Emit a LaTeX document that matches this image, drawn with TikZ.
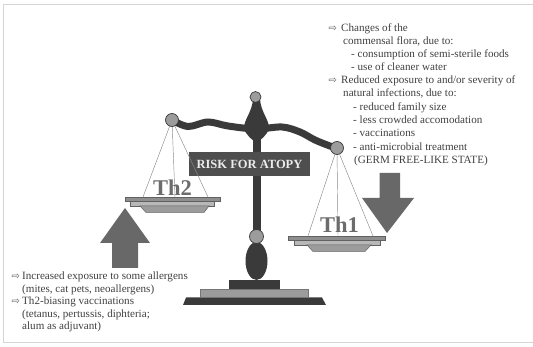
\documentclass[tikz,border=0pt]{standalone}
\usepackage{fontspec}
\usetikzlibrary{shapes.geometric}
\setmainfont{Liberation Serif}
\newfontfamily\arrowfont{DejaVu Sans}
\definecolor{scaledark}{HTML}{3A3A3A}
\definecolor{ballgray}{HTML}{9C9C9C}
\definecolor{pangray}{HTML}{8E8E8E}
\definecolor{panlight}{HTML}{B8B8B8}
\definecolor{arrowgray}{HTML}{686868}
\definecolor{textgray}{HTML}{404040}
\definecolor{framegray}{HTML}{D4D4D4}
\definecolor{stringgray}{HTML}{8A8A8A}
\definecolor{labelgray}{HTML}{6C6C6C}
\begin{document}
\begin{tikzpicture}[x=1pt,y=-1pt,
  ball/.style={circle, fill=ballgray, draw=scaledark, line width=0.7pt, inner sep=0pt, minimum size=#1},
  ball/.default=12pt,
  string/.style={draw=stringgray, line width=0.45pt},
  panedge/.style={draw=scaledark!80, line width=0.5pt},
  body/.style={anchor=base west, inner sep=0pt, text=textgray, font=\fontsize{11.1}{12}\selectfont},
  bullet/.style={anchor=base west, inner sep=0pt, text=textgray!85, font=\arrowfont\fontsize{10}{10}\selectfont},
  thlabel/.style={anchor=base, inner sep=0pt, text=labelgray, font=\bfseries\fontsize{22.5}{24}\selectfont},
  bigarrow/.style={fill=arrowgray}
]
\useasboundingbox (0,0) rectangle (533,347);

% thin frame
\draw[framegray, line width=0.9pt] (533,4) -- (3,4) -- (3,342) -- (533,342);

% ---- scale: base ----
\path[fill=scaledark] (186,297.5) -- (322,297.5) -- (326,305) -- (183,305) -- cycle;
\path[fill=ballgray, draw=scaledark!70, line width=0.4pt] (200,289) rectangle (308,297.5);
\path[fill=scaledark] (229,280) rectangle (280,289);
\node[ellipse, fill=scaledark, minimum width=22pt, minimum height=38pt, inner sep=0pt] (foot) at (256.5,261) {};

% pole and hub
\path[fill=scaledark] (252.5,128) rectangle (260.5,232);
\path[fill=scaledark] (253,99) -- (260,99)
  .. controls (261,112) and (268,118) .. (269,127)
  .. controls (268,136) and (260,139) .. (256.5,144)
  .. controls (253,139) and (245,136) .. (244,127)
  .. controls (245,118) and (252,112) .. (253,99) -- cycle;

% beam
\draw[scaledark, line width=7pt, line cap=round] plot[smooth, tension=0.55] coordinates
  {(172,120) (188,126.5) (208,122) (228,126) (256,129) (282,127) (300,132) (315,140) (330,146) (337,148)};

% balls
\node[ball=11pt] (topball) at (255.5,97) {};
\node[ball=13pt] (lball) at (172,120) {};
\node[ball=13pt] (rball) at (337,148) {};
\node[ball=14pt] (midball) at (256.5,236.5) {};

% label box
\node[fill=scaledark!90, text=white!92!black, minimum width=121pt, minimum height=24pt, inner sep=0pt,
      font=\bfseries\fontsize{12.5}{14}\selectfont] (risk) at (249.5,164) {RISK FOR ATOPY};

% ---- left pan ----
\coordinate (lp1) at (143,197);
\coordinate (lp2) at (175,197);
\coordinate (lp3) at (208,197);
\draw[string] (lball) -- (lp1);
\draw[string] (lball) -- (lp2);
\draw[string] (lball) -- (lp3);
\node[thlabel] (th2) at (172.5,196) {Th2};
\path[fill=pangray, panedge] (125,197.5) rectangle (220,201);
\path[fill=panlight, panedge] (130,201) rectangle (214,206);
\path[fill=ballgray, panedge] (140,206) -- (209,206) -- (204,212.5) -- (146,212.5) -- cycle;

% ---- right pan ----
\coordinate (rp1) at (308,236);
\coordinate (rp2) at (338,236);
\coordinate (rp3) at (373,236);
\draw[string] (rball) -- (rp1);
\draw[string] (rball) -- (rp2);
\draw[string] (rball) -- (rp3);
\node[thlabel] (th1) at (339.5,232.5) {Th1};
\path[fill=pangray, panedge] (288,236.5) rectangle (385,240);
\path[fill=panlight, panedge] (294,240) rectangle (380,245);
\path[fill=ballgray, panedge] (307,245) -- (371,245) -- (365,251.5) -- (313,251.5) -- cycle;

% ---- big arrows ----
\path[bigarrow] (112,268) -- (112,243) -- (100,243) -- (125,208) -- (150,243) -- (138,243) -- (138,268) -- cycle;
\path[bigarrow] (379.5,173) -- (400,173) -- (400,198) -- (414,198) -- (387,233) -- (362,198) -- (379.5,198) -- cycle;

% ---- right text block ----
\node[bullet] (ra) at (328.5,32) {⇨};
\node[body] (r1) at (341,32) {Changes of the};
\node[body] (r2) at (343,45) {commensal flora, due to:};
\node[body] (r3) at (351,58) {- consumption of semi-sterile foods};
\node[body] (r4) at (351,71) {- use of cleaner water};
\node[bullet] (rb) at (328.5,84) {⇨};
\node[body] (r5) at (341,84) {Reduced exposure to and/or severity of};
\node[body] (r6) at (343,97) {natural infections, due to:};
\node[body] (r7) at (353,110.5) {- reduced family size};
\node[body] (r8) at (353,124) {- less crowded accomodation};
\node[body] (r9) at (353,137) {- vaccinations};
\node[body] (r10) at (353,150.5) {- anti-microbial treatment};
\node[body] (r11) at (354,164) {(GERM FREE-LIKE STATE)};

% ---- left text block ----
\node[bullet] (la) at (11.5,280) {⇨};
\node[body] (l1) at (22,280) {Increased exposure to some allergens};
\node[body] (l2) at (22,293) {(mites, cat pets, neoallergens)};
\node[bullet] (lb) at (11.5,305) {⇨};
\node[body] (l3) at (22,305) {Th2-biasing vaccinations};
\node[body] (l4) at (22,317.5) {(tetanus, pertussis, diphteria;};
\node[body] (l5) at (22,330) {alum as adjuvant)};
\end{tikzpicture}
\end{document}
